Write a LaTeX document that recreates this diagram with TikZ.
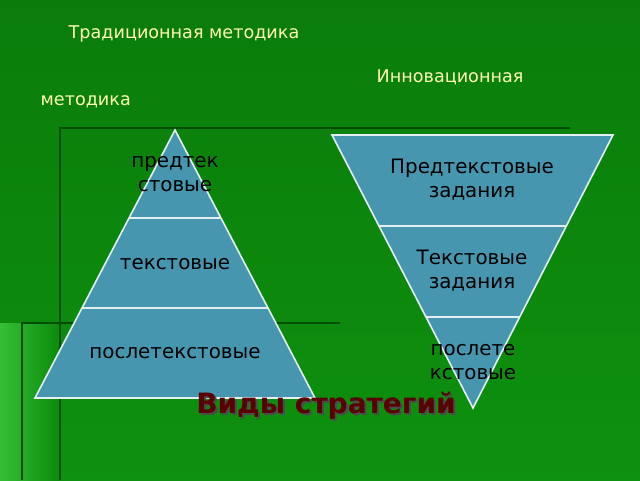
\documentclass[tikz,border=0pt]{standalone}
\usepackage{fontspec}
\setmainfont{DejaVu Sans}
\begin{document}
\begin{tikzpicture}[x=0.75pt,y=-0.75pt,
  tri/.style={fill=tbl,draw=white!85!tbl,line width=1.2pt},
  lbl/.style={text=black,font=\fontsize{14.9}{18}\selectfont,align=center},
  hdr/.style={text=yellow!30!white,font=\fontsize{13.2}{15}\selectfont,anchor=west},
  deco/.style={draw=green!30!black,line width=1.5pt}]
\definecolor{tbl}{HTML}{4596AE}
\definecolor{bgA}{HTML}{0B8A0B}
\definecolor{bgB}{HTML}{1FB81F}
\useasboundingbox (0,0) rectangle (640,480);
\shade[top color=bgA!90!black,bottom color=bgA!85!bgB] (0,0) rectangle (640,480);
\shade[left color=bgB!90!white, right color=bgA] (0,323) rectangle (60,480);
% decorative lines
\draw[deco] (60,480) -- (60,128) -- (570,128);
\draw[deco] (22,480) -- (22,323) -- (340,323);
% left pyramid
\coordinate (la) at (175,130);
\coordinate (lb) at (35,398);
\coordinate (lc) at (315,398);
\draw[tri] (la) -- (lb) -- (lc) -- cycle;
\draw[white!85!tbl,line width=1.2pt] (129,218) -- (221,218);
\draw[white!85!tbl,line width=1.2pt] (82,308) -- (268,308);
\node[lbl] (l1) at (175,174) {предтек\\стовые};
\node[lbl] (l2) at (175,264) {текстовые};
\node[lbl] (l3) at (175,353) {послетекстовые};
% right inverted pyramid
\coordinate (ra) at (332,135);
\coordinate (rb) at (613,135);
\coordinate (rc) at (473,408);
\draw[tri] (ra) -- (rb) -- (rc) -- cycle;
\draw[white!85!tbl,line width=1.2pt] (379,226) -- (566,226);
\draw[white!85!tbl,line width=1.2pt] (426,317) -- (520,317);
\node[lbl] (r1) at (472,180) {Предтекстовые\\задания};
\node[lbl] (r2) at (472,271) {Текстовые\\задания};
\node[lbl] (r3) at (473,362) {послете\\кстовые};
% headers
\node[hdr] (h1) at (64,34) {Традиционная методика};
\node[hdr] (h2) at (372,77) {Инновационная};
\node[hdr] (h3) at (36,102) {методика};
% title
\node[text=black!70,font=\bfseries\fontsize{21}{24}\selectfont] at (328,408) {Виды стратегий};
\node[text=red!35!black,font=\bfseries\fontsize{21}{24}\selectfont] (t) at (326,406) {Виды стратегий};
\end{tikzpicture}
\end{document}
